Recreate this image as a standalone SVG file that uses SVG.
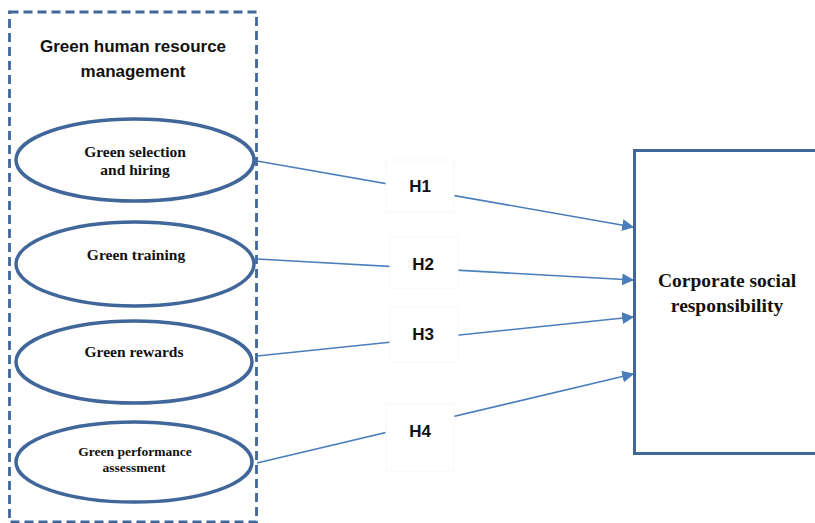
<svg xmlns="http://www.w3.org/2000/svg" width="815" height="523" viewBox="0 0 815 523">
<style>
.ell{fill:#fff;stroke:#41679a;stroke-width:3.5}
.et{font-family:"Liberation Serif",serif;font-weight:bold;fill:#111;text-anchor:middle}
.conn{stroke:#4a7ebb;stroke-width:1.6;fill:none;marker-end:url(#ah)}
.lb{fill:#fff;stroke:#f7f7f7;stroke-width:1}
.lt{font-family:"Liberation Sans",Arial,sans-serif;font-weight:bold;font-size:17px;fill:#111;text-anchor:middle}
.tt{font-family:"Liberation Sans",Arial,sans-serif;font-weight:bold;font-size:17px;fill:#111;text-anchor:middle}
</style>
<defs>
<marker id="ah" viewBox="0 0 10 10" refX="9" refY="5" markerWidth="7.5" markerHeight="7.5" orient="auto" markerUnits="strokeWidth">
<path d="M0,0 L10,5 L0,10 z" fill="#4a7ebb"/>
</marker>
</defs>
<rect width="815" height="523" fill="#fff"/>
<g id="ghrm">
<rect x="9.5" y="12" width="247" height="510" fill="none" stroke="#41679a" stroke-width="2.8" stroke-dasharray="9,5"/>
<text class="tt" x="133" y="52">Green human resource</text>
<text class="tt" x="133" y="77">management</text>
</g>
<g id="connectors">
<line class="conn" x1="257" y1="161" x2="633" y2="227"/>
<line class="conn" x1="257" y1="259" x2="633" y2="280"/>
<line class="conn" x1="257" y1="356" x2="633" y2="317"/>
<line class="conn" x1="257" y1="463" x2="633" y2="374"/>
</g>
<g id="n1"><ellipse class="ell" cx="135" cy="160" rx="119" ry="41"/>
<text class="et" x="135" y="157" font-size="15.5">Green selection</text>
<text class="et" x="135" y="175" font-size="15.5">and hiring</text></g>
<g id="n2"><ellipse class="ell" cx="135" cy="264" rx="119" ry="42"/>
<text class="et" x="136" y="260" font-size="15.5">Green training</text></g>
<g id="n3"><ellipse class="ell" cx="134" cy="362" rx="118" ry="41"/>
<text class="et" x="134" y="357" font-size="15.5">Green rewards</text></g>
<g id="n4"><ellipse class="ell" cx="134" cy="462" rx="118" ry="40"/>
<text class="et" x="135" y="456" font-size="13.5">Green performance</text>
<text class="et" x="134" y="472" font-size="13.5">assessment</text></g>
<g id="csr">
<rect x="634.5" y="150.5" width="200" height="303" fill="#fff" stroke="#41679a" stroke-width="3"/>
<text class="et" x="727" y="287" font-size="19.5">Corporate social</text>
<text class="et" x="727" y="312" font-size="19.5">responsibility</text>
</g>
<g id="h1"><rect class="lb" x="386" y="160" width="68" height="52"/><text class="lt" x="420" y="192">H1</text></g>
<g id="h2"><rect class="lb" x="390" y="237" width="68" height="52"/><text class="lt" x="423" y="270">H2</text></g>
<g id="h3"><rect class="lb" x="390" y="307" width="68" height="55"/><text class="lt" x="423" y="340">H3</text></g>
<g id="h4"><rect class="lb" x="386" y="404" width="68" height="67"/><text class="lt" x="420" y="437">H4</text></g>
</svg>
